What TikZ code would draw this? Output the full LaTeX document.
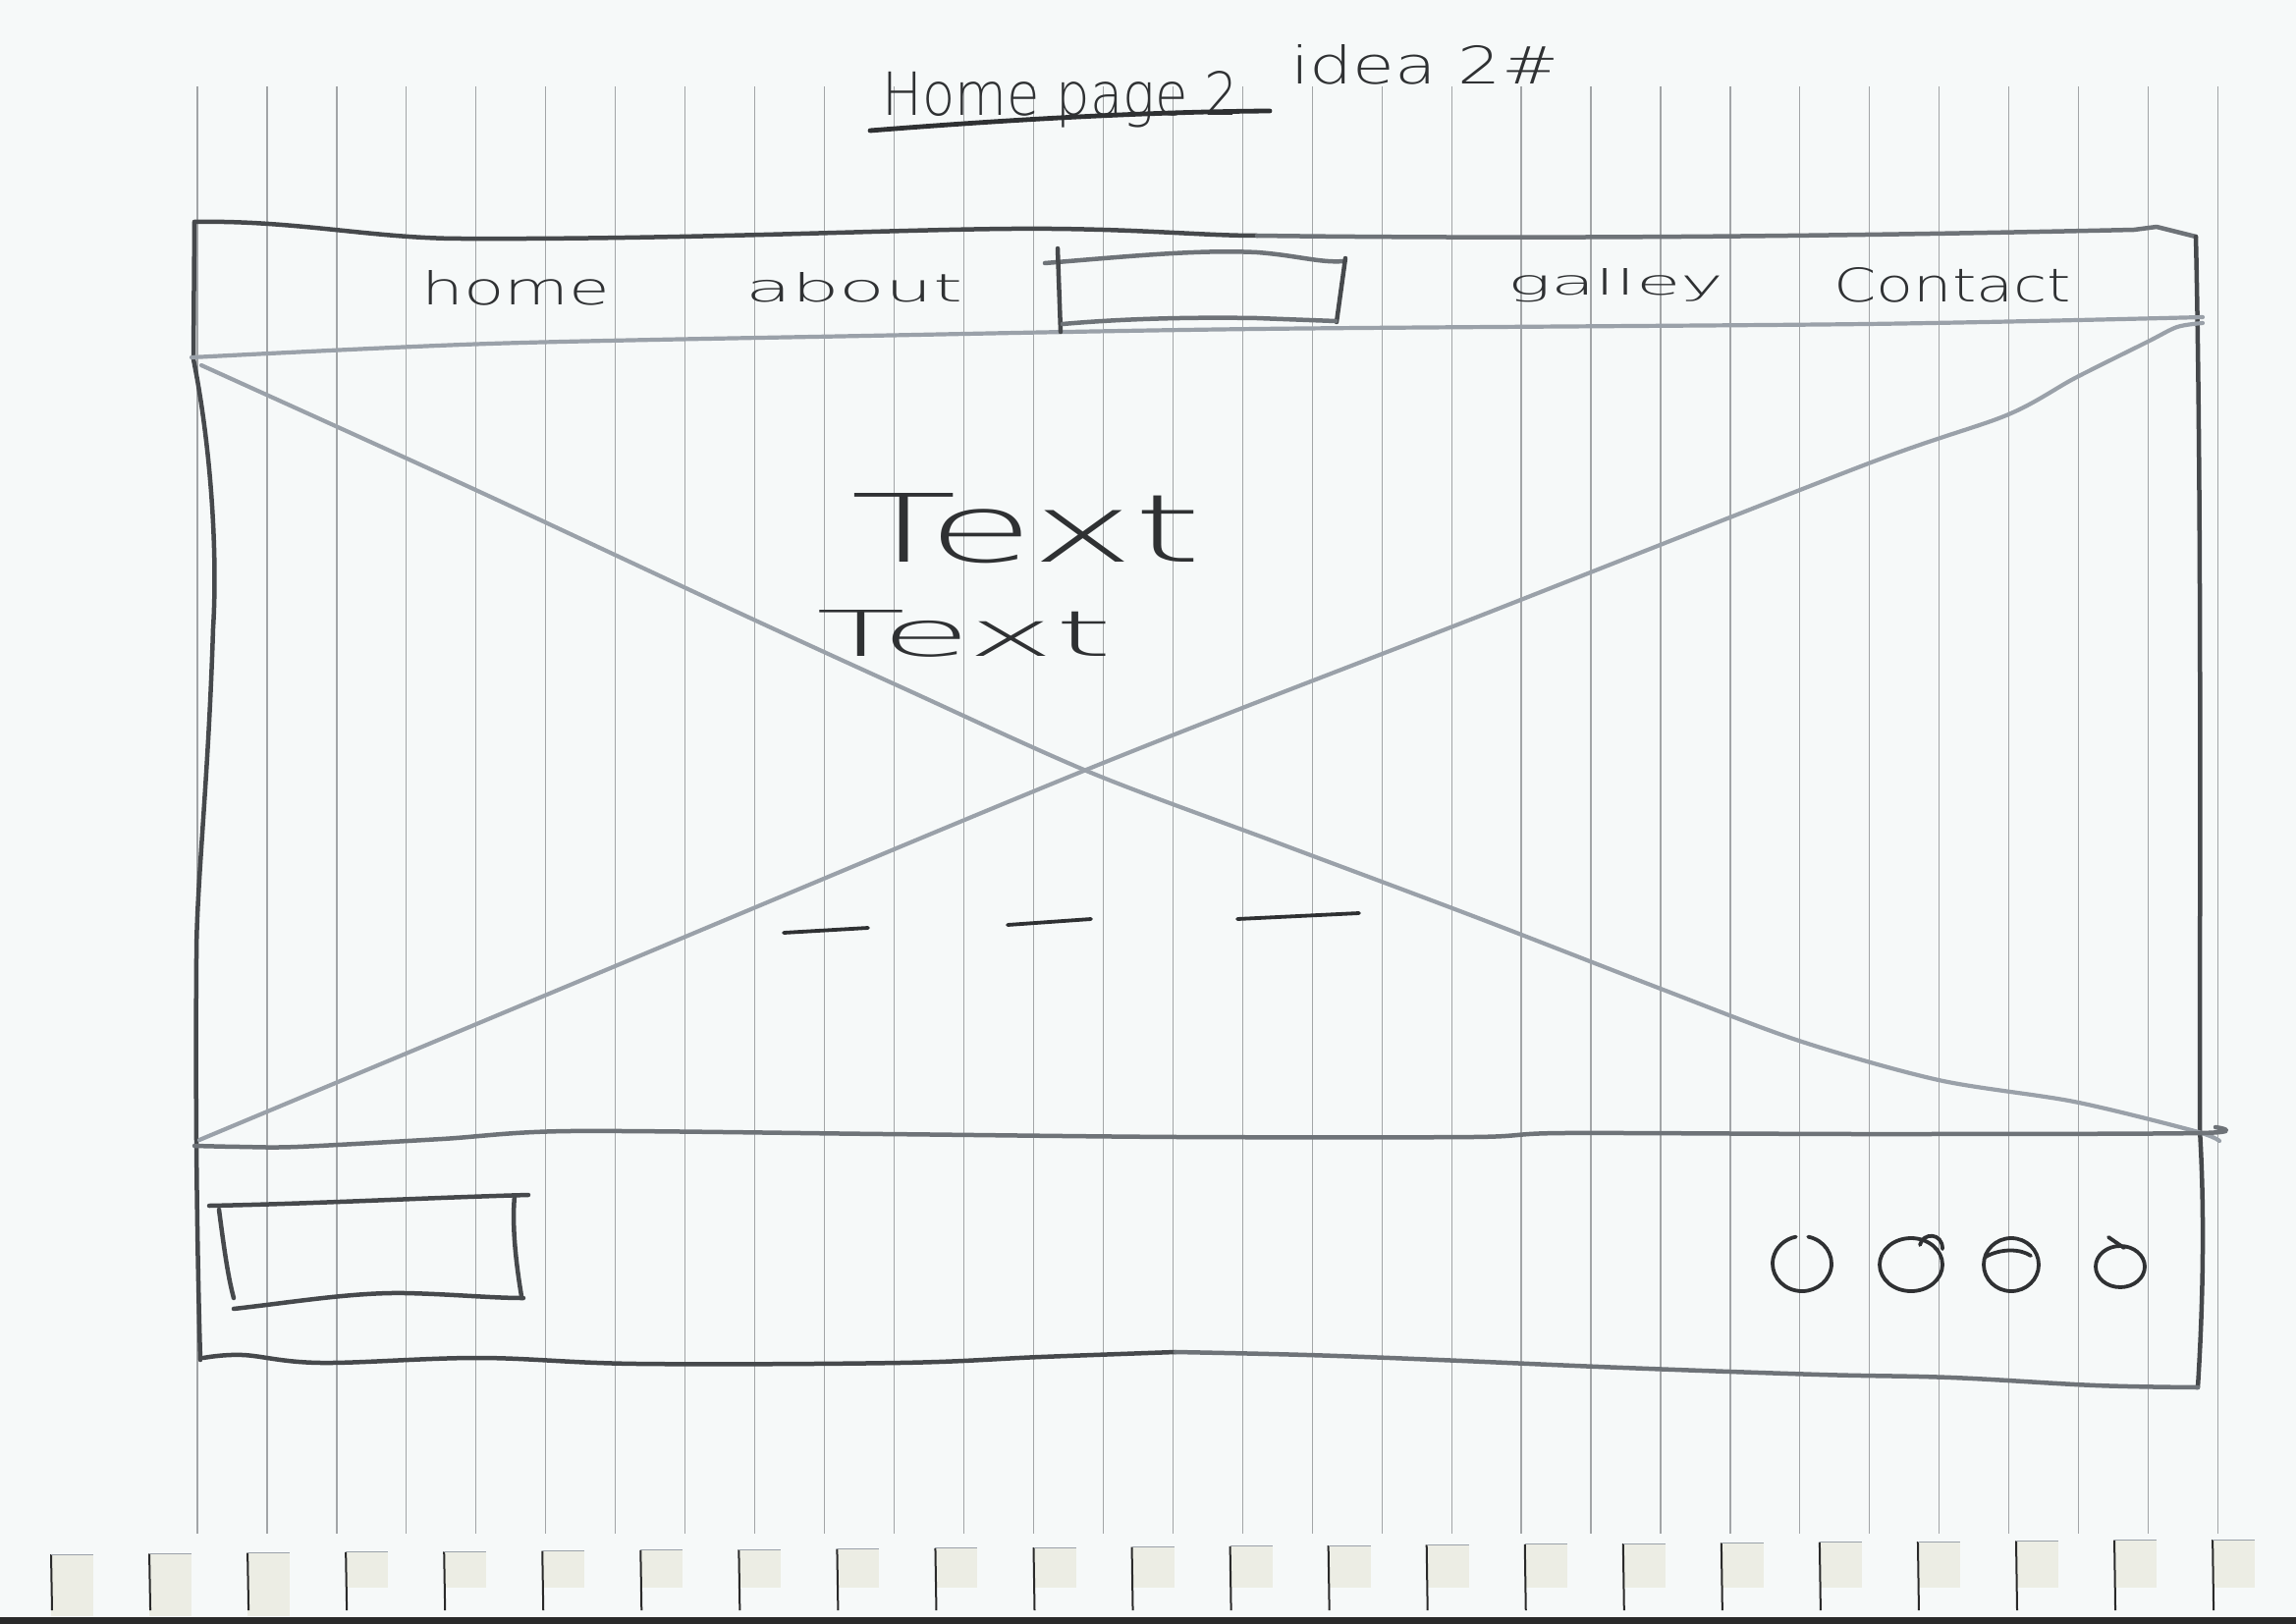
\documentclass[tikz,border=0pt]{standalone}
\usepackage{graphicx}
\usepackage{fontspec}
\setmainfont{PT Sans}
\newfontfamily\handfont{DejaVu Sans ExtraLight}
\usetikzlibrary{calc}
\definecolor{paper}{HTML}{F6F9F9}
\definecolor{rulegray}{HTML}{A2A5A7}
\definecolor{inkdark}{HTML}{46494C}
\definecolor{inkmid}{HTML}{6E7378}
\definecolor{inklight}{HTML}{9AA1A9}
\definecolor{inktext}{HTML}{2F3133}
\definecolor{holefill}{HTML}{ECEDE4}
\definecolor{edgedark}{HTML}{2A2A2A}

\begin{document}
\begin{tikzpicture}[x=1pt,y=-1pt,
  ruling/.style={rulegray,line width=1.2pt},
  pen/.style={inkdark,line width=4.5pt,line cap=round,line join=round},
  penmid/.style={inkmid,line width=4.5pt,line cap=round,line join=round},
  penlight/.style={inklight,line width=4.2pt,line cap=round,line join=round},
  penthin/.style={inktext,line width=3.8pt,line cap=round,line join=round},
  hand/.style={inner sep=0pt,anchor=base west,text=inktext,font=\handfont},
]
% sheet of paper
\fill[paper] (0,0) rectangle (2338,1654);
\useasboundingbox (0,0) rectangle (2338,1654);

% vertical ruling
\foreach \i in {0,...,29}
  \draw[ruling] ({201+70.95*\i},88) -- ({201+70.95*\i},1562);

% torn perforation along the bottom
\foreach \i in {0,...,22} {
  \pgfmathsetmacro\hx{52+100.05*\i}
  \pgfmathsetmacro\ht{1583-15*\i/22}
  \pgfmathsetmacro\hb{\i<3 ? 1646 : 1617}
  \fill[holefill] (\hx,\ht) rectangle ({\hx+43},\hb);
  \draw[edgedark,line width=2pt] (\hx,\ht) -- ({\hx+1},1640);
  \draw[inklight,line width=1pt] (\hx,\ht) -- ({\hx+43},\ht);
}
\fill[edgedark] (0,1647) rectangle (2338,1654);

% title
\node[hand] (title) at (898,117) {\resizebox{363pt}{45pt}{Home page 2}};
\node[hand] (idea) at (1314,86) {\resizebox{273pt}{40pt}{idea 2\#}};
\draw[penthin,line width=4.8pt] (886,133) .. controls (1000,124) and (1150,114) .. (1293,113);

% outer frame: top edge
\draw[pen] (198,226) .. controls (300,224) and (380,243) .. (470,243)
  .. controls (700,244) and (900,234) .. (1030,233)
  .. controls (1150,232) and (1220,240) .. (1280,240);
\draw[penmid] (1280,240) .. controls (1600,244) and (1900,240) .. (2173,234)
  -- (2196,231) -- (2236,241);
% right edge
\draw[pen] (2236,241) .. controls (2242,500) and (2240,900) .. (2240,1150)
  .. controls (2246,1250) and (2242,1350) .. (2238,1413);
% left edge
\draw[pen] (198,226) -- (197,366) .. controls (214,450) and (222,560) .. (217,640)
  .. controls (212,800) and (200,900) .. (200,976)
  .. controls (199,1100) and (200,1250) .. (204,1385);
% bottom edge
\draw[pen] plot[smooth,tension=0.6] coordinates {(207,1383) (247,1380) (327,1388) (488,1383) (649,1389) (916,1388) (1060,1382) (1197,1377)};
\draw[penmid] plot[smooth,tension=0.6] coordinates {(1197,1377) (1331,1380) (1465,1385) (1653,1393) (1853,1400) (1987,1403) (2134,1411) (2238,1413)};

% navigation bar
\draw[penlight] plot[smooth] coordinates {(195,364) (499,350) (882,342) (1280,335) (1900,330) (2243,323)};
\node[hand] (home) at (429,310) {\resizebox{192pt}{35pt}{home}};
\node[hand] (about) at (759,307) {\resizebox{221pt}{30pt}{about}};
\node[hand] (gallery) at (1535,300) {\resizebox{220pt}{27pt}{galley}};
\node[hand] (contact) at (1867,307) {\resizebox{242pt}{35pt}{Contact}};
% box in the middle of the bar
\draw[penmid] (1064,268) .. controls (1150,261) and (1220,254) .. (1280,257)
  .. controls (1320,260) and (1345,268) .. (1368,266);
\draw[pen] (1370,263) -- (1361,328);
\draw[pen] (1077,253) -- (1080,338);
\draw[penmid] (1082,330) .. controls (1150,324) and (1220,323) .. (1280,324) -- (1360,327);

% hero image placeholder: crossed diagonals
\draw[penlight] plot[smooth] coordinates {(205,372) (480,497) (750,623) (918,700) (1111,787) (1300,858) (1500,933) (1691,1007) (1832,1060) (1974,1100) (2112,1122) (2235,1152) (2260,1162)};
\draw[penlight] plot[smooth] coordinates {(203,1161) (600,995) (1111,782) (1500,630) (1900,473) (2043,423) (2113,385) (2187,348) (2217,333) (2243,329)};

% hero texts
\node[hand] (headline) at (866,572) {\resizebox{358pt}{70pt}{Text}};
\node[hand] (subline) at (831,668) {\resizebox{301pt}{47pt}{Text}};

% slider indicators
\draw[penthin] (798,950) -- (884,945);
\draw[penthin] (1026,942) -- (1111,936);
\draw[penthin] (1260,936) -- (1384,930);

% footer
\draw[penmid] plot[smooth] coordinates {(198,1167) (245,1168) (303,1168) (450,1160) (580,1152) (900,1155) (1200,1158) (1500,1158) (1592,1154) (1900,1155) (2240,1154) (2256,1148)};
% footer box
\draw[pen] (213,1228) .. controls (320,1226) and (430,1220) .. (538,1217);
\draw[pen] (223,1232) .. controls (228,1270) and (232,1300) .. (238,1322);
\draw[pen] (238,1333) .. controls (300,1326) and (360,1316) .. (413,1317) .. controls (460,1318) and (500,1322) .. (533,1322);
\draw[pen] (524,1218) .. controls (521,1250) and (526,1290) .. (531,1320);

% social icons
\draw[penthin] (1835,1287) ++(-78:30 and 28) arc[start angle=-78,end angle=258,x radius=30,y radius=28];
\draw[penthin] (1946,1288) ellipse[x radius=32,y radius=27];
\draw[penthin] (1955,1268) .. controls (1958,1255) and (1978,1255) .. (1978,1272);
\draw[penthin] (2048,1288) ellipse[x radius=28,y radius=27];
\draw[penthin] (2022,1280) .. controls (2038,1271) and (2058,1272) .. (2068,1279);
\draw[penthin] (2159,1290) ellipse[x radius=25,y radius=21];
\draw[penthin] (2147,1260) -- (2163,1271);
\end{tikzpicture}
\end{document}
